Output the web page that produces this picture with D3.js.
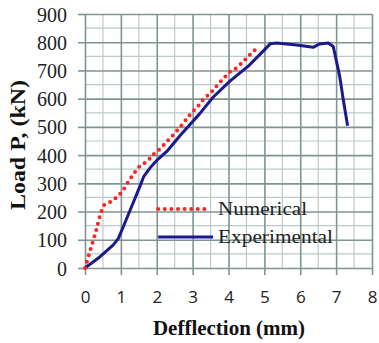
<!DOCTYPE html>
<html>
<head>
<meta charset="utf-8">
<script src="https://cdn.jsdelivr.net/npm/d3@7"></script>
<style>
  body { margin: 0; background: #fff; }
  svg { display: block; }
</style>
</head>
<body>
<svg id="chart" width="379" height="343"></svg>
<script>
// data (deflection mm, load kN)
const numericalX = [0, 0.15, 0.3, 0.43, 0.53, 0.72, 0.93, 1.09, 1.23, 1.38, 1.53, 1.74, 1.92, 2.12, 2.29, 2.47, 2.65, 2.96, 3.15, 3.31, 3.5, 3.67, 3.85, 4.04, 4.24, 4.43, 4.61, 4.85];
const numericalY = [0, 64, 128, 192, 223, 235, 255, 281, 310, 338, 362, 378, 404, 425, 449, 473, 499, 549, 573, 599, 620, 645, 670, 695, 710, 734, 758, 785];

const experimentalX = [0, 0.42, 0.79, 0.93, 1.07, 1.3, 1.53, 1.64, 1.81, 2.0, 2.28, 2.64, 2.92, 3.2, 3.57, 4.04, 4.55, 4.87, 5.17, 5.34, 5.9, 6.36, 6.54, 6.78, 6.92, 7.1, 7.2, 7.32];
const experimentalY = [0, 40, 82, 105, 147, 218, 289, 325, 354, 381, 413, 468, 508, 547, 605, 662, 715, 756, 795, 797, 790, 782, 794, 797, 785, 679, 596, 504];

const xTicks = [0, 1, 2, 3, 4, 5, 6, 7, 8];
const yTicks = [0, 100, 200, 300, 400, 500, 600, 700, 800, 900];

const legendNames = ["Numerical", "Experimental"];
const legendLevel = [209, 110]; // y-value the legend rows sit on
const legendFrom = 2.04, legendTo = [3.41, 3.57];

const svg = d3.select("#chart");
const x = d3.scaleLinear().domain([0, 8]).range([85, 372]);
const y = d3.scaleLinear().domain([0, 900]).range([268, 14]);

const minorColor = "#bccaca";
const majorColor = "#7f9493";
const serif = "'Liberation Serif', 'Times New Roman', serif";

// minor grid
const g = svg.append("g");
g.selectAll(".vminor").data(d3.range(0.5, 8, 1)).enter().append("line")
  .attr("x1", d => x(d)).attr("x2", d => x(d))
  .attr("y1", y(0)).attr("y2", y(900))
  .attr("stroke", minorColor).attr("stroke-width", 1.2);
g.selectAll(".hminor").data(d3.range(50, 900, 100)).enter().append("line")
  .attr("x1", x(0)).attr("x2", x(8))
  .attr("y1", d => y(d)).attr("y2", d => y(d))
  .attr("stroke", minorColor).attr("stroke-width", 1.2);

// major grid + ticks outside
const xAxis = d3.axisBottom(x).tickValues(xTicks).tickSize(-(y(0) - y(900))).tickSizeOuter(0).tickFormat("");
const yAxis = d3.axisLeft(y).tickValues(yTicks).tickSize(-(x(8) - x(0))).tickSizeOuter(0).tickFormat("");
const gx = svg.append("g").attr("transform", `translate(0,${y(0)})`).call(xAxis);
const gy = svg.append("g").attr("transform", `translate(${x(0)},0)`).call(yAxis);
[gx, gy].forEach(a => {
  a.select(".domain").remove();
  a.selectAll(".tick line").attr("stroke", majorColor).attr("stroke-width", 1.6);
});
// small outside stubs
gx.selectAll(".tick").append("line").attr("y1", 0).attr("y2", 7).attr("stroke", majorColor).attr("stroke-width", 1.6);
gy.selectAll(".tick").append("line").attr("x1", 0).attr("x2", -7).attr("stroke", majorColor).attr("stroke-width", 1.6);

// tick labels
gx.selectAll(".tick").append("text")
  .attr("y", 35).attr("fill", "#222")
  .attr("font-family", "'Open Sans', 'Liberation Sans', sans-serif").attr("font-size", 17)
  .attr("text-anchor", "middle").text(d => d);
gy.selectAll(".tick").append("text")
  .attr("x", -18).attr("dy", "0.35em").attr("fill", "#222")
  .attr("font-family", serif).attr("font-size", 20)
  .attr("text-anchor", "end").text(d => d);

// series
const line = d3.line().x(d => x(d[0])).y(d => y(d[1]));
const numerical = d3.zip(numericalX, numericalY);
const experimental = d3.zip(experimentalX, experimentalY);

svg.append("path").datum(experimental).attr("d", line)
  .attr("fill", "none").attr("stroke", "#1a1a8e").attr("stroke-width", 3)
  .attr("stroke-linejoin", "round");
svg.append("path").datum(numerical).attr("d", line)
  .attr("fill", "none").attr("stroke", "#ff2222").attr("stroke-width", 4)
  .attr("stroke-linecap", "round").attr("stroke-dasharray", "0,6.6");

// legend
const legendStyle = [
  { stroke: "#ff2222", width: 4, dash: "0,6.6", cap: "round", len: 89 },
  { stroke: "#1a1a8e", width: 3, dash: null, cap: "butt", len: 115 }
];
legendNames.forEach((name, i) => {
  const ly = y(legendLevel[i]);
  svg.append("line")
    .attr("x1", x(legendFrom)).attr("x2", x(legendTo[i]))
    .attr("y1", ly).attr("y2", ly)
    .attr("stroke", legendStyle[i].stroke).attr("stroke-width", legendStyle[i].width)
    .attr("stroke-dasharray", legendStyle[i].dash).attr("stroke-linecap", legendStyle[i].cap);
  svg.append("text")
    .attr("x", 218).attr("y", ly + 6)
    .attr("font-family", serif).attr("font-size", 19)
    .attr("textLength", legendStyle[i].len).attr("lengthAdjust", "spacingAndGlyphs")
    .attr("fill", "#222").text(name);
});

// axis titles
svg.append("text")
  .attr("x", 229).attr("y", 335).attr("text-anchor", "middle")
  .attr("font-family", serif).attr("font-weight", "bold")
  .attr("font-size", 21).attr("fill", "#111").text("Defflection (mm)");
svg.append("text")
  .attr("transform", "translate(25,145) rotate(-90)").attr("text-anchor", "middle")
  .attr("font-family", serif).attr("font-weight", "bold")
  .attr("font-size", 20).attr("textLength", 130).attr("lengthAdjust", "spacingAndGlyphs")
  .attr("fill", "#111").text("Load P,  (kN)");
</script>
</body>
</html>
